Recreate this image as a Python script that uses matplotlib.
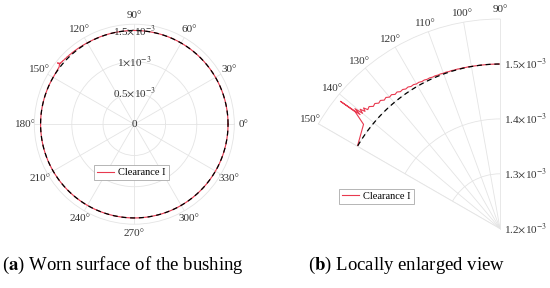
import numpy as np
import matplotlib.pyplot as plt
from matplotlib.transforms import offset_copy

plt.rcParams['font.family'] = ['Liberation Serif', 'DejaVu Serif']
plt.rcParams['mathtext.fontset'] = 'stix'

# reference (unworn) contour, radius in m
theta_ref = np.arange(0, 361, 1.0)
r_ref = np.full(theta_ref.shape, 1.5e-3)

worn_theta = [100, 101, 102, 103, 104, 105, 106, 107, 108, 109,
              110, 111, 112, 113, 114, 115, 116, 117, 118, 119,
              120, 121, 122, 123, 124, 125, 126, 127, 128, 129,
              130, 131, 132, 133, 134, 135, 136, 137, 138, 138.5,
              139, 139.5, 140, 140.4, 140.8, 141.4, 141.1, 142.6, 150]
worn_r = [1.5002, 1.5006, 1.5003, 1.5008, 1.5005, 1.5010, 1.5007, 1.5013, 1.5010, 1.5017,
          1.5014, 1.5021, 1.5018, 1.5026, 1.5022, 1.5032, 1.5028, 1.5040, 1.5035, 1.5050,
          1.5045, 1.5062, 1.5056, 1.5078, 1.5070, 1.5095, 1.5086, 1.5118, 1.5105, 1.5142,
          1.5130, 1.5168, 1.5152, 1.5195, 1.5180, 1.5225, 1.5208, 1.5262, 1.5242, 1.5320,
          1.5258, 1.5350, 1.5270, 1.5430, 1.5290, 1.5720, 1.5390, 1.5130, 1.5000]

base_a = np.arange(0, 100, 1.0)
base_b = np.arange(151, 361, 1.0)
theta_c1 = np.concatenate([base_a, worn_theta, base_b])
r_c1 = np.concatenate([np.full(base_a.shape, 1.5e-3),
                       np.array(worn_r) * 1e-3,
                       np.full(base_b.shape, 1.5e-3)])

full_ticks = [0, 0.5e-3, 1e-3, 1.5e-3]
full_labels = ['0', r'0.5$\times$10$^{-3}$', r'1$\times$10$^{-3}$', r'1.5$\times$10$^{-3}$']
zoom_ticks = [1.2e-3, 1.3e-3, 1.4e-3, 1.5e-3]
zoom_labels = [r'1.2$\times$10$^{-3}$', r'1.3$\times$10$^{-3}$',
               r'1.4$\times$10$^{-3}$', r'1.5$\times$10$^{-3}$']

red = '#e8394f'
gridc = '#e4e4e4'
txtc = '#333333'
fs = 8
lfs = 7.5

fig = plt.figure(figsize=(5.5, 2.88), dpi=100)


def style(ax):
    ax.grid(True, color=gridc, linewidth=0.6)
    for s in ax.spines.values():
        s.set_color(gridc)
        s.set_linewidth(0.6)
    ax.tick_params(axis='x', labelsize=fs, pad=-4, colors=txtc)
    ax.set_yticklabels([])


def add_legend(ax, handle, anchor):
    leg = ax.legend(handles=[handle], loc='center', bbox_to_anchor=anchor,
                    bbox_transform=fig.transFigure, fontsize=lfs, fancybox=False,
                    edgecolor='#aaaaaa', handlelength=1.6, borderpad=0.3,
                    handletextpad=0.4, framealpha=1)
    leg.get_frame().set_linewidth(0.6)


# (a) full view
ax1 = fig.add_axes([0.0624, 0.2215, 0.3636, 0.6944], projection='polar')
ln, = ax1.plot(np.deg2rad(theta_c1), r_c1, color=red, lw=0.8, label='Clearance I')
ax1.plot(np.deg2rad(theta_ref), r_ref, color='black', lw=0.9, ls=(0, (4, 3)))
ax1.set_rlim(0, 1.6e-3)
ax1.set_rticks(full_ticks)
ax1.set_thetagrids(np.arange(0, 360, 30), [f'{a}°' for a in range(0, 360, 30)])
style(ax1)
for r, lab in zip(full_ticks, full_labels):
    ax1.text(np.pi / 2, r, lab, ha='center', va='center', fontsize=fs, color=txtc)
add_legend(ax1, ln, (0.239, 0.401))

# (b) locally enlarged view
ax2 = fig.add_axes([0.5534, 0.2059, 0.3813, 0.7281], projection='polar')
ln2, = ax2.plot(np.deg2rad(theta_c1), r_c1, color=red, lw=0.8, label='Clearance I')
ax2.plot(np.deg2rad(theta_ref), r_ref, color='black', lw=0.9, ls=(0, (4, 3)))
ax2.set_thetamin(90)
ax2.set_thetamax(150)
ax2.set_rlim(1.2e-3, 1.582e-3)
ax2.set_rticks(zoom_ticks)
ax2.set_thetagrids(np.arange(90, 151, 10), [f'{a}°' for a in range(90, 151, 10)])
style(ax2)
tr = offset_copy(ax2.transData, fig=fig, x=3, y=0, units='points')
for r, lab in zip(zoom_ticks, zoom_labels):
    ax2.text(np.pi / 2, r, lab, ha='left', va='center', fontsize=fs, color=txtc,
             transform=tr, clip_on=False)
add_legend(ax2, ln2, (0.6845, 0.318))

fig.text(0.223, 0.08, r'($\mathbf{a}$) Worn surface of the bushing', ha='center',
         va='center', fontsize=13.5)
fig.text(0.74, 0.08, r'($\mathbf{b}$) Locally enlarged view', ha='center',
         va='center', fontsize=13.5)

fig.savefig('out.png', dpi=100)
